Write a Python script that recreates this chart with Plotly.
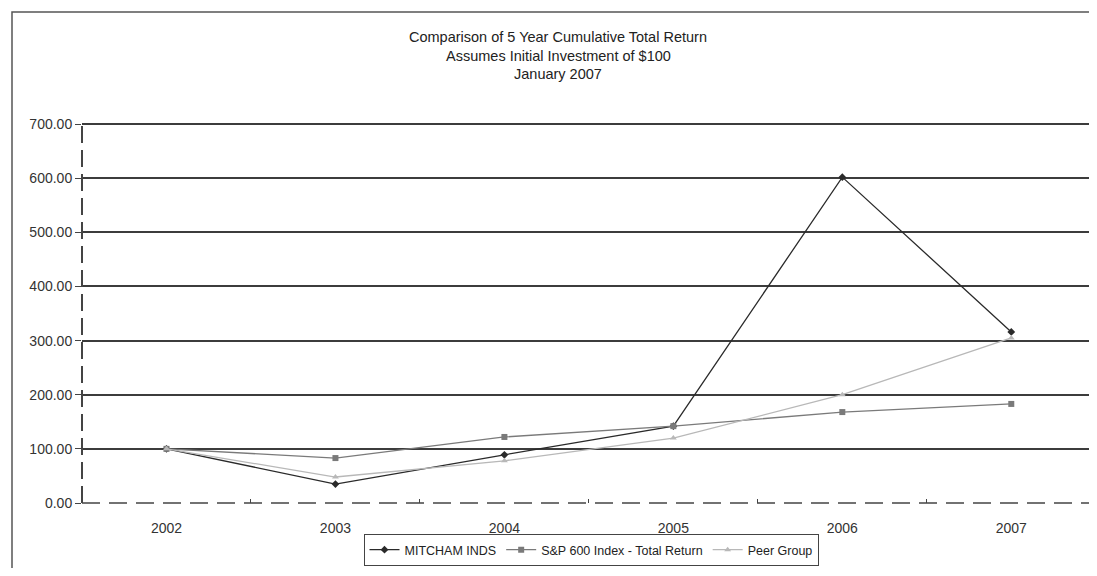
import plotly.graph_objects as go

years = ["2002", "2003", "2004", "2005", "2006", "2007"]
mitcham = [100.0, 35.0, 89.0, 142.0, 602.0, 316.0]
sp600 = [100.0, 83.0, 122.0, 142.0, 168.0, 183.0]
peer = [100.0, 48.0, 78.0, 120.0, 200.0, 305.0]
y_ticks = [0, 100, 200, 300, 400, 500, 600, 700]
y_labels = ["%.2f" % v for v in y_ticks]
title_lines = ["Comparison of 5 Year Cumulative Total Return",
               "Assumes Initial Investment of $100",
               "January 2007"]

# page body has an 8px margin on all sides; work in page pixels and convert
OFF = 8
W, H = 1097 - 2 * OFF, 576 - 2 * OFF
L, R, T, B = 82 - OFF, 1089 - OFF, 123 - OFF, 503 - OFF
Y_TOP = 702
X_RANGE = [-0.5, 5.46]
font = "Liberation Sans, Arial, sans-serif"

fig = go.Figure()
fig.add_trace(go.Scatter(x=years, y=mitcham, name="MITCHAM INDS", mode="lines+markers",
                         line=dict(color="#2a2a2a", width=1.3),
                         marker=dict(symbol="diamond", size=6, color="#2a2a2a")))
fig.add_trace(go.Scatter(x=years, y=sp600, name="S&P 600 Index - Total Return", mode="lines+markers",
                         line=dict(color="#7a7a7a", width=1.3),
                         marker=dict(symbol="square", size=6, color="#7a7a7a")))
fig.add_trace(go.Scatter(x=years, y=peer, name="Peer Group", mode="lines+markers",
                         line=dict(color="#b8b8b8", width=1.3),
                         marker=dict(symbol="triangle-up", size=6, color="#b8b8b8")))
# invisible trace for gridline axis
fig.add_trace(go.Scatter(x=years, y=mitcham, yaxis="y2", mode="lines",
                         line=dict(width=0), showlegend=False, hoverinfo="skip", opacity=0))

def px2paper_x(px):
    return (px - OFF - L) / (R - L)

def px2paper_y(py):
    return (B - (py - OFF)) / (B - T)

shapes = [
    # outer frame
    dict(type="rect", xref="paper", yref="paper",
         x0=px2paper_x(12), x1=px2paper_x(1095), y0=px2paper_y(600), y1=px2paper_y(12),
         line=dict(color="#555555", width=1.5), layer="below"),
    # dashed y axis line
    dict(type="line", xref="paper", yref="paper", x0=0, x1=0, y0=0, y1=1,
         line=dict(color="#444444", width=2, dash="17px,7px"), layer="above"),
    # dashed x axis line
    dict(type="line", xref="paper", yref="paper", x0=0, x1=1, y0=0, y1=0,
         line=dict(color="#444444", width=1.5, dash="18px,9px"), layer="above"),
]

annotations = []
for i, (t, yy) in enumerate(zip(title_lines, [37, 56, 74])):
    annotations.append(dict(text=t, xref="paper", yref="paper",
                            x=px2paper_x(558), y=px2paper_y(yy),
                            xanchor="center", yanchor="middle", showarrow=False,
                            font=dict(family=font, size=14.5, color="#222222")))

fig.update_layout(
    width=W, height=H,
    margin=dict(l=L, r=W - R, t=T, b=H - B, pad=0, autoexpand=False),
    paper_bgcolor="white", plot_bgcolor="rgba(0,0,0,0)",
    font=dict(family=font, size=14, color="#333333"),
    shapes=shapes, annotations=annotations,
    showlegend=True,
    legend=dict(orientation="h", x=px2paper_x(591), xanchor="center", y=px2paper_y(566), yanchor="bottom",
                bordercolor="#444444", borderwidth=1, bgcolor="white",
                font=dict(family=font, size=12.5, color="#222222"),
                itemwidth=30, tracegroupgap=0),
    xaxis=dict(type="category", range=X_RANGE, showgrid=False, zeroline=False,
               showline=False, ticks="inside", ticklen=4, tickcolor="#444444",
               tickson="boundaries", ticklabelstandoff=15,
               tickfont=dict(family=font, size=14, color="#333333")),
    yaxis=dict(range=[0, Y_TOP], tickvals=y_ticks, ticktext=y_labels, showgrid=False,
               zeroline=False, showline=False, ticks="outside", ticklen=6,
               tickcolor="#444444", tickwidth=1.2,
               tickfont=dict(family=font, size=14, color="#333333")),
    yaxis2=dict(range=[0, Y_TOP], overlaying="y", tickvals=y_ticks[1:], showgrid=True,
                gridcolor="#3c3c3c", gridwidth=1.5, showticklabels=False,
                zeroline=False, showline=False, ticks=""),
)

fig.write_html("out.html")
